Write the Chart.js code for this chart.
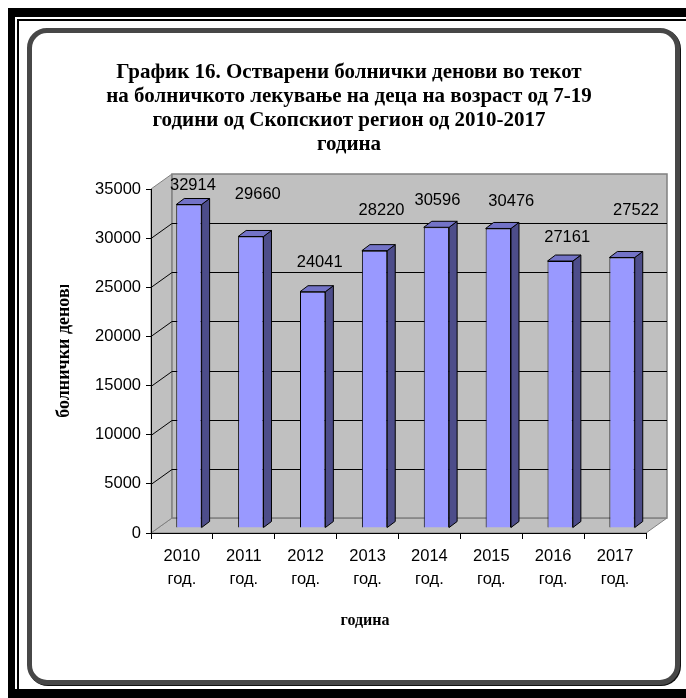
<!DOCTYPE html>
<html>
<head>
<meta charset="utf-8">
<script src="https://cdn.jsdelivr.net/npm/chart.js@4/dist/chart.umd.min.js"></script>
<style>
  html, body { margin: 0; padding: 0; background: #fff; overflow: hidden; }
  #page { position: relative; width: 686px; height: 698px; overflow: hidden; background: #fff; }
  #frame { position: absolute; left: 8px; top: 8px; width: 700px; height: 693px; box-sizing: border-box;
           border-style: solid; border-color: #000; border-width: 9px 10px 12px 7px; }
  #rule { position: absolute; left: 17px; top: 19px; width: 700px; height: 700px; box-sizing: border-box;
          border-left: 2px solid #000; border-top: 2px solid #000; }
  #panel { position: absolute; left: 27px; top: 28px; width: 653px; height: 657px; box-sizing: border-box;
           border: 5px solid #474747; border-radius: 20px; box-shadow: 1px 1px 0 #111; background: #fff; }
  canvas { position: absolute; left: 0; top: 0; }
</style>
</head>
<body>
<div id="page">
  <div id="frame"></div>
  <div id="rule"></div>
  <div id="panel"></div>
  <canvas id="chart" width="686" height="698"></canvas>
</div>
<script>
// Years on the category axis
const years = ['2010', '2011', '2012', '2013', '2014', '2015', '2016', '2017'];
const yearSuffix = 'год.';
// Hospital days per year
const hospitalDays = [32914, 29660, 24041, 28220, 30596, 30476, 27161, 27522];
// Value axis range
const yMin = 0;
const yMax = 35000;
const yStep = 5000;

const titleLines = [
  'График 16. Остварени болнички денови во текот',
  'на болничкото лекување на деца на возраст од 7-19',
  'години од Скопскиот регион од 2010-2017',
  'година'
];
const xTitle = 'година';
const yTitle = 'болнички денови';

// Value-label nudges (pixels) relative to each bar's front top
const labelDX = [11, 14, 14, 14, 8, 20, 14, 21];
const labelDY = [-24, -47, -34, -45, -32, -32, -29, -52];

// Pseudo-3D geometry
const WALL = { dx: 21, dy: -15 };
const BAR_SHIFT = { dx: 7, dy: -5 };
const BAR_DEPTH = { dx: 8, dy: -6 };

const SANS = '"Liberation Sans", Arial, sans-serif';
const SERIF = '"Liberation Serif", "Times New Roman", serif';

function poly(ctx, pts) {
  ctx.beginPath();
  ctx.moveTo(pts[0][0], pts[0][1]);
  for (let i = 1; i < pts.length; i++) ctx.lineTo(pts[i][0], pts[i][1]);
  ctx.closePath();
}

const walls3d = {
  id: 'walls3d',
  beforeDraw(chart) {
    const { ctx, chartArea: a, scales: { y } } = chart;
    const L = a.left, R = a.right, T = a.top, B = a.bottom;
    const dx = WALL.dx, dy = WALL.dy;
    ctx.save();
    ctx.fillStyle = '#C0C0C0';
    ctx.strokeStyle = '#808080';
    ctx.lineWidth = 1;
    // floor
    poly(ctx, [[L, B], [R, B], [R + dx, B + dy], [L + dx, B + dy]]);
    ctx.fill(); ctx.stroke();
    // side wall
    poly(ctx, [[L, B], [L, T], [L + dx, T + dy], [L + dx, B + dy]]);
    ctx.fill(); ctx.stroke();
    // back wall
    poly(ctx, [[L + dx, T + dy], [R + dx, T + dy], [R + dx, B + dy], [L + dx, B + dy]]);
    ctx.fill();
    ctx.lineWidth = 1.5;
    ctx.stroke();
    // gridlines across side and back walls
    ctx.strokeStyle = '#000';
    ctx.lineWidth = 1;
    y.ticks.forEach(t => {
      if (t.value <= y.min || t.value >= y.max) return;
      const py = Math.round(y.getPixelForValue(t.value)) + 0.5;
      ctx.beginPath();
      ctx.moveTo(L, py);
      ctx.lineTo(L + dx, py + dy);
      ctx.lineTo(R + dx, py + dy);
      ctx.stroke();
    });
    ctx.restore();
  },
  beforeDatasetsDraw(chart) {
    chart.ctx.save();
    chart.ctx.translate(BAR_SHIFT.dx, BAR_SHIFT.dy);
  },
  afterDatasetDraw(chart, args) {
    const ctx = chart.ctx;
    ctx.save();
    ctx.strokeStyle = '#000';
    ctx.lineWidth = 1;
    args.meta.data.forEach(bar => {
      const p = bar.getProps(['x', 'y', 'base', 'width'], true);
      const l = p.x - p.width / 2, r = p.x + p.width / 2;
      const top = Math.min(p.y, p.base), bot = Math.max(p.y, p.base);
      // side face
      ctx.fillStyle = '#4D4D8A';
      poly(ctx, [[r, top], [r + BAR_DEPTH.dx, top + BAR_DEPTH.dy], [r + BAR_DEPTH.dx, bot + BAR_DEPTH.dy], [r, bot]]);
      ctx.fill(); ctx.stroke();
      // top face
      ctx.fillStyle = '#7373C7';
      poly(ctx, [[l, top], [l + BAR_DEPTH.dx, top + BAR_DEPTH.dy], [r + BAR_DEPTH.dx, top + BAR_DEPTH.dy], [r, top]]);
      ctx.fill(); ctx.stroke();
    });
    ctx.restore();
  },
  afterDatasetsDraw(chart) {
    const ctx = chart.ctx;
    ctx.restore();
    // value labels
    ctx.save();
    ctx.fillStyle = '#000';
    ctx.font = '16.5px ' + SANS;
    ctx.textAlign = 'center';
    ctx.textBaseline = 'middle';
    chart.getDatasetMeta(0).data.forEach((bar, i) => {
      ctx.fillText(String(hospitalDays[i]), bar.x + labelDX[i], bar.y + labelDY[i]);
    });
    ctx.restore();
  },
  afterDraw(chart) {
    const { ctx, chartArea: a } = chart;
    ctx.save();
    ctx.fillStyle = '#000';
    ctx.font = 'bold 16px ' + SERIF;
    ctx.textAlign = 'center';
    ctx.textBaseline = 'middle';
    ctx.fillText(xTitle, a.left + 214, a.bottom + 88);
    // rotated value-axis title, clipped at its top end
    ctx.font = 'bold 18px ' + SERIF;
    ctx.beginPath();
    ctx.rect(0, 285, a.left - 20, 300);
    ctx.clip();
    ctx.translate(a.left - 87, 278);
    ctx.rotate(-Math.PI / 2);
    ctx.textAlign = 'right';
    ctx.fillText(yTitle, 0, 0);
    ctx.restore();
  }
};

new Chart(document.getElementById('chart'), {
  type: 'bar',
  data: {
    labels: years.map(yr => [yr, yearSuffix]),
    datasets: [{
      data: hospitalDays,
      backgroundColor: '#9999FF',
      borderColor: '#000',
      borderWidth: 1,
      barPercentage: 0.41,
      categoryPercentage: 1,
      clip: false
    }]
  },
  options: {
    responsive: false,
    animation: false,
    events: [],
    layout: { padding: { left: 52, right: 40, top: 0, bottom: 0 } },
    plugins: {
      legend: { display: false },
      tooltip: { enabled: false },
      title: {
        display: true,
        text: titleLines,
        color: '#000',
        font: { family: SERIF, size: 21, weight: 'bold', lineHeight: '24px' },
        padding: { top: 61, bottom: 32 }
      }
    },
    scales: {
      x: {
        grid: { display: true, drawOnChartArea: false, drawTicks: true, tickLength: 6, color: '#000', offset: true },
        border: { display: true, color: '#000', width: 1 },
        ticks: { color: '#000', font: { family: SANS, size: 16.5, lineHeight: '23px' }, padding: 6, maxRotation: 0, autoSkip: false },
        afterFit(scale) { scale.height = 165; }
      },
      y: {
        min: yMin,
        max: yMax,
        grid: { display: true, drawOnChartArea: false, drawTicks: true, tickLength: 5, color: '#000' },
        border: { display: true, color: '#000', width: 1 },
        ticks: { stepSize: yStep, color: '#000', font: { family: SANS, size: 16.5 }, padding: 5,
                 callback: v => String(v) },
        afterFit(scale) { scale.width = 99; }
      }
    }
  },
  plugins: [walls3d]
});
</script>
</body>
</html>
